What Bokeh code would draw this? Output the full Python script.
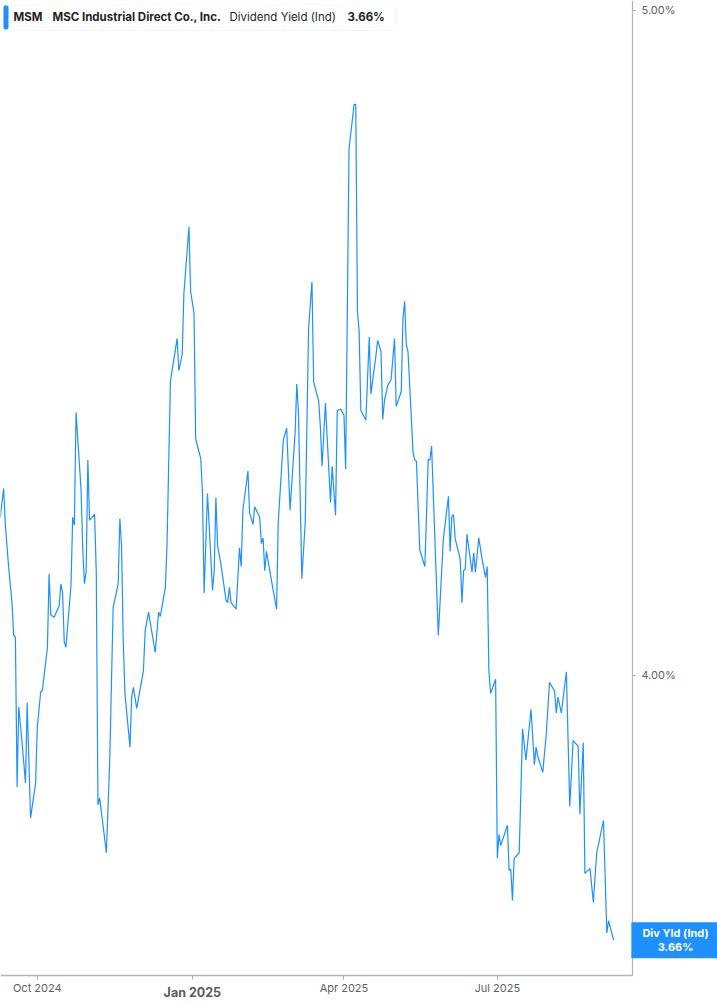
import pandas as pd
from bokeh.plotting import figure
from bokeh.models import (Range1d, FixedTicker, CustomJSTickFormatter, PrintfTickFormatter,
                          Label, BoxAnnotation, ColumnDataSource)
from bokeh.embed import file_html
from bokeh.resources import INLINE

symbol = "MSM"
company = "MSC Industrial Direct Co., Inc."
metric = "Dividend Yield (Ind)"
badge_title = "Div Yld (Ind)"

dates = [
    "2024-09-09", "2024-09-11", "2024-09-12", "2024-09-14", "2024-09-16", "2024-09-17", "2024-09-18", "2024-09-19", "2024-09-20", "2024-09-22",
    "2024-09-24", "2024-09-25", "2024-09-27", "2024-09-30", "2024-10-01", "2024-10-03", "2024-10-04", "2024-10-07", "2024-10-08", "2024-10-09",
    "2024-10-11", "2024-10-14", "2024-10-15", "2024-10-16", "2024-10-17", "2024-10-18", "2024-10-21", "2024-10-22", "2024-10-23", "2024-10-24",
    "2024-10-27", "2024-10-28", "2024-10-29", "2024-10-30", "2024-10-31", "2024-11-01", "2024-11-04", "2024-11-05", "2024-11-06", "2024-11-07",
    "2024-11-11", "2024-11-13", "2024-11-15", "2024-11-18", "2024-11-19", "2024-11-20", "2024-11-21", "2024-11-22", "2024-11-25", "2024-11-26",
    "2024-11-27", "2024-11-29", "2024-12-03", "2024-12-04", "2024-12-06", "2024-12-10", "2024-12-12", "2024-12-13", "2024-12-16", "2024-12-17",
    "2024-12-19", "2024-12-23", "2024-12-24", "2024-12-26", "2024-12-27", "2024-12-30", "2024-12-31", "2025-01-02", "2025-01-03", "2025-01-06",
    "2025-01-07", "2025-01-08", "2025-01-10", "2025-01-13", "2025-01-14", "2025-01-15", "2025-01-16", "2025-01-18", "2025-01-21", "2025-01-22",
    "2025-01-23", "2025-01-24", "2025-01-27", "2025-01-29", "2025-01-30", "2025-01-31", "2025-02-03", "2025-02-04", "2025-02-06", "2025-02-07",
    "2025-02-10", "2025-02-11", "2025-02-12", "2025-02-13", "2025-02-14", "2025-02-18", "2025-02-20", "2025-02-21", "2025-02-24", "2025-02-26",
    "2025-02-28", "2025-03-03", "2025-03-04", "2025-03-05", "2025-03-07", "2025-03-09", "2025-03-11", "2025-03-13", "2025-03-14", "2025-03-17",
    "2025-03-18", "2025-03-19", "2025-03-21", "2025-03-24", "2025-03-25", "2025-03-27", "2025-03-28", "2025-03-30", "2025-04-01", "2025-04-02",
    "2025-04-04", "2025-04-07", "2025-04-08", "2025-04-09", "2025-04-10", "2025-04-11", "2025-04-14", "2025-04-16", "2025-04-17", "2025-04-20",
    "2025-04-21", "2025-04-23", "2025-04-24", "2025-04-25", "2025-04-27", "2025-04-29", "2025-05-01", "2025-05-02", "2025-05-05", "2025-05-06",
    "2025-05-07", "2025-05-08", "2025-05-09", "2025-05-12", "2025-05-13", "2025-05-14", "2025-05-16", "2025-05-19", "2025-05-21", "2025-05-22",
    "2025-05-23", "2025-05-27", "2025-05-30", "2025-06-02", "2025-06-03", "2025-06-04", "2025-06-05", "2025-06-06", "2025-06-09", "2025-06-10",
    "2025-06-11", "2025-06-12", "2025-06-13", "2025-06-16", "2025-06-17", "2025-06-18", "2025-06-20", "2025-06-22", "2025-06-24", "2025-06-25",
    "2025-06-26", "2025-06-27", "2025-06-30", "2025-07-01", "2025-07-02", "2025-07-03", "2025-07-07", "2025-07-08", "2025-07-09", "2025-07-10",
    "2025-07-11", "2025-07-14", "2025-07-16", "2025-07-18", "2025-07-21", "2025-07-23", "2025-07-24", "2025-07-25", "2025-07-28", "2025-07-29",
    "2025-07-30", "2025-08-01", "2025-08-04", "2025-08-05", "2025-08-06", "2025-08-08", "2025-08-11", "2025-08-13", "2025-08-15", "2025-08-18",
    "2025-08-19", "2025-08-21", "2025-08-22", "2025-08-25", "2025-08-27", "2025-08-29", "2025-09-02", "2025-09-04", "2025-09-05", "2025-09-08",
]

yields = [
    4.218, 4.259, 4.209, 4.148, 4.098, 4.054, 4.052, 3.853, 3.958, 3.910,
    3.858, 3.964, 3.813, 3.858, 3.931, 3.978, 3.980, 4.037, 4.139, 4.082,
    4.079, 4.095, 4.125, 4.113, 4.045, 4.038, 4.123, 4.218, 4.207, 4.369,
    4.256, 4.171, 4.125, 4.143, 4.300, 4.214, 4.222, 4.141, 3.830, 3.839,
    3.769, 3.888, 4.092, 4.125, 4.216, 4.178, 4.048, 3.976, 3.905, 3.971,
    3.984, 3.956, 4.007, 4.060, 4.086, 4.031, 4.086, 4.080, 4.120, 4.181,
    4.415, 4.479, 4.431, 4.455, 4.547, 4.650, 4.550, 4.518, 4.330, 4.302,
    4.255, 4.112, 4.252, 4.116, 4.143, 4.246, 4.178, 4.152, 4.102, 4.099,
    4.120, 4.099, 4.090, 4.175, 4.149, 4.228, 4.284, 4.224, 4.208, 4.233,
    4.218, 4.181, 4.189, 4.143, 4.170, 4.116, 4.090, 4.211, 4.329, 4.346,
    4.228, 4.339, 4.411, 4.368, 4.132, 4.211, 4.494, 4.565, 4.414, 4.386,
    4.348, 4.291, 4.383, 4.239, 4.291, 4.221, 4.372, 4.374, 4.365, 4.287,
    4.773, 4.845, 4.845, 4.520, 4.490, 4.372, 4.358, 4.481, 4.396, 4.454,
    4.476, 4.459, 4.359, 4.386, 4.409, 4.418, 4.479, 4.378, 4.400, 4.509,
    4.535, 4.470, 4.459, 4.311, 4.300, 4.298, 4.172, 4.149, 4.301, 4.300,
    4.320, 4.054, 4.188, 4.248, 4.170, 4.219, 4.222, 4.188, 4.159, 4.099,
    4.143, 4.146, 4.194, 4.141, 4.168, 4.141, 4.189, 4.159, 4.134, 4.149,
    4.007, 3.976, 3.995, 3.762, 3.792, 3.778, 3.804, 3.747, 3.748, 3.709,
    3.762, 3.769, 3.929, 3.888, 3.955, 3.882, 3.905, 3.893, 3.872, 3.897,
    3.920, 3.991, 3.979, 3.950, 3.971, 3.950, 4.005, 3.828, 3.914, 3.906,
    3.818, 3.911, 3.743, 3.749, 3.707, 3.769, 3.810, 3.669, 3.684, 3.660,
]

x_tick_dates = ["2024-10-01", "2025-01-01", "2025-04-01", "2025-07-01"]
y_tick_values = [4.0, 5.0]

FONT = "Inter"
BLUE = "#1e90ff"
W, H = 717, 1005


def ms(d):
    return pd.Timestamp(d).value // 10**6


# view window and where the axes sit (positions, not data)
X_START, X_END = ms("2024-09-09 03:50"), ms("2025-11-08 16:20")
X_AXIS_AT_DATE = ms("2025-09-19 05:30")   # vertical value axis position
Y_BOTTOM, Y_TOP = 3.5807, 5.0168
Y_AXIS_AT_VALUE = 3.6170                  # horizontal time axis position

source = ColumnDataSource(dict(date=pd.to_datetime(dates), yld=yields))

p = figure(
    x_axis_type="datetime", y_axis_type="log", y_axis_location="right",
    width=W, height=H, min_border=0,
    x_range=Range1d(X_START, X_END), y_range=Range1d(Y_BOTTOM, Y_TOP),
    toolbar_location=None, output_backend="svg",
)
p.outline_line_color = None
p.background_fill_color = "white"
p.border_fill_color = "white"
p.xgrid.visible = False
p.ygrid.visible = False

p.line("date", "yld", source=source, line_color=BLUE, line_width=1.2)

# time axis
xa = p.xaxis[0]
xa.fixed_location = Y_AXIS_AT_VALUE
xa.bounds = (X_START, X_AXIS_AT_DATE)
xa.ticker = FixedTicker(ticks=[ms(d) for d in x_tick_dates], minor_ticks=[])
xa.formatter = CustomJSTickFormatter(code="""
const names = ["Jan","Feb","Mar","Apr","May","Jun","Jul","Aug","Sep","Oct","Nov","Dec"];
const d = new Date(tick);
const m = d.getUTCMonth();
if (m == 0) { return ""; }
return names[m] + " " + d.getUTCFullYear();
""")
xa.axis_line_color = "#b4b4b4"
xa.axis_line_width = 1.5
xa.major_tick_line_color = "#a8a8a8"
xa.major_tick_out = 4
xa.major_tick_in = 0
xa.minor_tick_line_color = None
xa.major_label_standoff = 2
xa.major_label_text_font = FONT
xa.major_label_text_font_size = "11px"
xa.major_label_text_color = "#606060"

# bold year-start label
for d in x_tick_dates:
    ts = pd.Timestamp(d)
    if ts.month == 1:
        p.add_layout(Label(x=ms(d), y=H - 991.5, x_units="data", y_units="screen",
                           text=ts.strftime("%b %Y"), text_font=FONT, text_font_style="bold",
                           text_font_size="12.5px", text_color="#5a5a5a",
                           text_align="center", text_baseline="middle"))

# value axis (right)
ya = p.yaxis[0]
ya.fixed_location = X_AXIS_AT_DATE
ya.bounds = (Y_AXIS_AT_VALUE, Y_TOP)
ya.ticker = FixedTicker(ticks=y_tick_values, minor_ticks=[])
ya.formatter = PrintfTickFormatter(format="%.2f%%")
ya.axis_line_color = "#b4b4b4"
ya.axis_line_width = 1.2
ya.major_tick_line_color = "#a8a8a8"
ya.major_tick_out = 3
ya.major_tick_in = 0
ya.minor_tick_line_color = None
ya.major_label_standoff = 6
ya.major_label_text_font = FONT
ya.major_label_text_font_size = "11px"
ya.major_label_text_color = "#606060"

# header box (top-left)
p.add_layout(BoxAnnotation(left=3, right=395, top=H - 4, bottom=H - 30,
                           left_units="screen", right_units="screen",
                           top_units="screen", bottom_units="screen",
                           fill_color="white", fill_alpha=1.0,
                           line_color="#e4e4e4", line_width=1, border_radius=3))
p.add_layout(BoxAnnotation(left=3, right=8, top=H - 5, bottom=H - 29,
                           left_units="screen", right_units="screen",
                           top_units="screen", bottom_units="screen",
                           fill_color=BLUE, fill_alpha=1.0, line_color=None, border_radius=2))
last_text = f"{yields[-1]:.2f}%"
header = [
    (13, symbol, "bold"),
    (52, company, "bold"),
    (229, metric, "normal"),
    (347, last_text, "bold"),
]
for hx, txt, style in header:
    p.add_layout(Label(x=hx, y=H - 16.5, x_units="screen", y_units="screen", text=txt,
                       text_font=FONT, text_font_style=style, text_font_size="11.5px",
                       text_color="#1f1f1f", text_align="left", text_baseline="middle"))

# last-value badge at the value axis
p.add_layout(Label(x=675, y=yields[-1], x_units="screen", y_units="data",
                   text=f"{badge_title}\n{last_text}", text_font=FONT, text_font_style="bold",
                   text_font_size="11px", text_color="white", text_align="center",
                   text_baseline="middle", text_line_height=1.0,
                   background_fill_color=BLUE, background_fill_alpha=1.0,
                   padding=dict(left=11, right=11, top=4, bottom=4)))

open("out.html", "w").write(file_html(p, INLINE))
